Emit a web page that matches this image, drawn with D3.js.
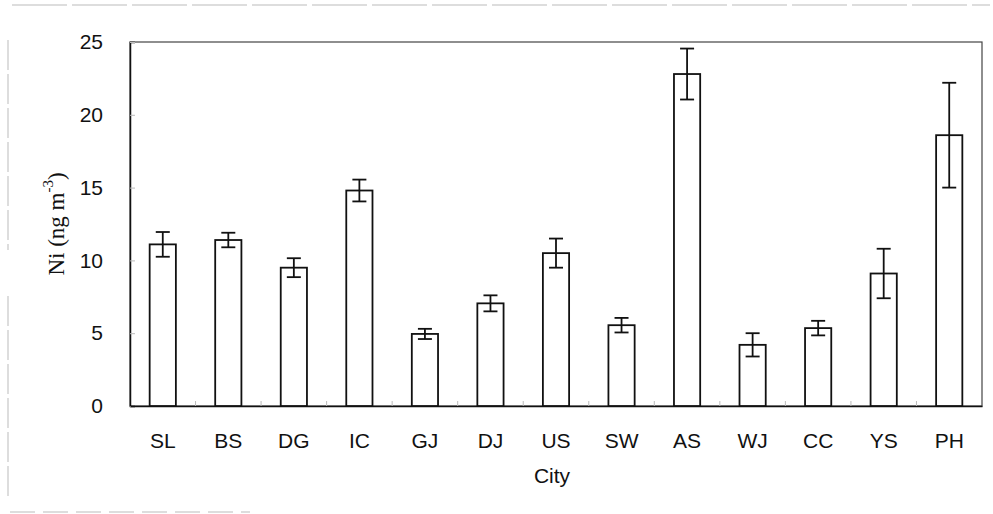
<!DOCTYPE html>
<html>
<head>
<meta charset="utf-8">
<script src="https://cdn.jsdelivr.net/npm/d3@7"></script>
<style>
  body { margin: 0; background: #fff; }
  svg text { fill: #111; }
</style>
</head>
<body>
<svg id="chart"></svg>
<script>
const cities = ["SL", "BS", "DG", "IC", "GJ", "DJ", "US", "SW", "AS", "WJ", "CC", "YS", "PH"];
const means = [11.1, 11.4, 9.5, 14.8, 4.95, 7.05, 10.5, 5.55, 22.8, 4.2, 5.35, 9.1, 18.6];
const errors = [0.85, 0.5, 0.65, 0.75, 0.35, 0.55, 1.0, 0.5, 1.75, 0.8, 0.5, 1.7, 3.6];
const yTicks = [0, 5, 10, 15, 20, 25];

const width = 993, height = 514;
const margin = { top: 42, right: 11, bottom: 108, left: 130 };
const innerW = width - margin.left - margin.right;
const innerH = height - margin.top - margin.bottom;

const data = cities.map((c, i) => ({ city: c, mean: means[i], err: errors[i] }));

const svg = d3.select("#chart").attr("width", width).attr("height", height);

// faint scan border around the figure
const border = svg.append("g").attr("stroke", "#bbb").attr("stroke-width", 1).attr("fill", "none");
border.append("line").attr("x1", 12).attr("x2", 990).attr("y1", 5).attr("y2", 5).attr("stroke-dasharray", "55,5");
border.append("line").attr("x1", 8).attr("x2", 8).attr("y1", 40).attr("y2", 250).attr("stroke-dasharray", "30,4");
border.append("line").attr("x1", 8).attr("x2", 8).attr("y1", 296).attr("y2", 500).attr("stroke-dasharray", "30,4");
border.append("line").attr("x1", 10).attr("x2", 250).attr("y1", 512).attr("y2", 512).attr("stroke-dasharray", "25,8");

const chart = svg.append("g").attr("transform", `translate(${margin.left},${margin.top})`);

const x = d3.scaleBand().domain(cities).range([0, innerW]);
const y = d3.scaleLinear().domain([0, 25]).range([innerH, 0]);

const tickFont = "'Liberation Sans', Arial, sans-serif";

// frame
chart.append("rect")
    .attr("x", 0).attr("y", 0)
    .attr("width", innerW).attr("height", innerH)
    .attr("fill", "none")
    .attr("stroke", "#444")
    .attr("stroke-width", 1.2);

// y axis
const yAxis = chart.append("g")
    .call(d3.axisLeft(y).tickValues(yTicks).tickSize(-5).tickPadding(27));
yAxis.select(".domain").attr("stroke", "#111").attr("stroke-width", 1.5);
yAxis.selectAll(".tick line").attr("stroke", "#bbb");
yAxis.selectAll(".tick text")
    .attr("font-family", tickFont)
    .attr("font-size", 21)
    .attr("fill", "#111");

// x axis
const xAxis = chart.append("g")
    .attr("transform", `translate(0,${innerH})`)
    .call(d3.axisBottom(x).tickSize(0).tickPadding(27));
xAxis.select(".domain").attr("stroke", "#111").attr("stroke-width", 1.5);
xAxis.selectAll(".tick text")
    .attr("font-family", tickFont)
    .attr("font-size", 21)
    .attr("fill", "#111");

// small ticks between categories
chart.append("g").selectAll("line")
    .data(cities.slice(1))
    .join("line")
    .attr("x1", d => x(d)).attr("x2", d => x(d))
    .attr("y1", innerH).attr("y2", innerH - 5)
    .attr("stroke", "#bbb");

// bars
const barW = x.bandwidth() * 0.4;
chart.selectAll(".bar")
    .data(data)
    .join("rect")
    .attr("class", "bar")
    .attr("x", d => x(d.city) + x.bandwidth() / 2 - barW / 2)
    .attr("y", d => y(d.mean))
    .attr("width", barW)
    .attr("height", d => innerH - y(d.mean))
    .attr("fill", "#fff")
    .attr("stroke", "#111")
    .attr("stroke-width", 1.8);

// error bars
const capW = 14;
const eb = chart.selectAll(".err").data(data).join("g").attr("class", "err")
    .attr("transform", d => `translate(${x(d.city) + x.bandwidth() / 2},0)`)
    .attr("stroke", "#111").attr("stroke-width", 1.8);
eb.append("line")
    .attr("y1", d => y(d.mean + d.err)).attr("y2", d => y(d.mean - d.err));
eb.append("line")
    .attr("x1", -capW / 2).attr("x2", capW / 2)
    .attr("y1", d => y(d.mean + d.err)).attr("y2", d => y(d.mean + d.err));
eb.append("line")
    .attr("x1", -capW / 2).attr("x2", capW / 2)
    .attr("y1", d => y(d.mean - d.err)).attr("y2", d => y(d.mean - d.err));

// axis titles
svg.append("text")
    .attr("x", margin.left + innerW / 2 - 4)
    .attr("y", 483)
    .attr("text-anchor", "middle")
    .attr("font-family", tickFont)
    .attr("font-size", 21)
    .text("City");

const yTitle = svg.append("text")
    .attr("transform", `translate(64,${margin.top + innerH / 2}) rotate(-90)`)
    .attr("text-anchor", "middle")
    .attr("font-family", "'Liberation Serif', 'Times New Roman', serif")
    .attr("font-size", 23);
yTitle.append("tspan").text("Ni (ng m");
yTitle.append("tspan").attr("font-size", 15).attr("dy", -11).text("-3");
yTitle.append("tspan").attr("dy", 11).text(")");
</script>
</body>
</html>
